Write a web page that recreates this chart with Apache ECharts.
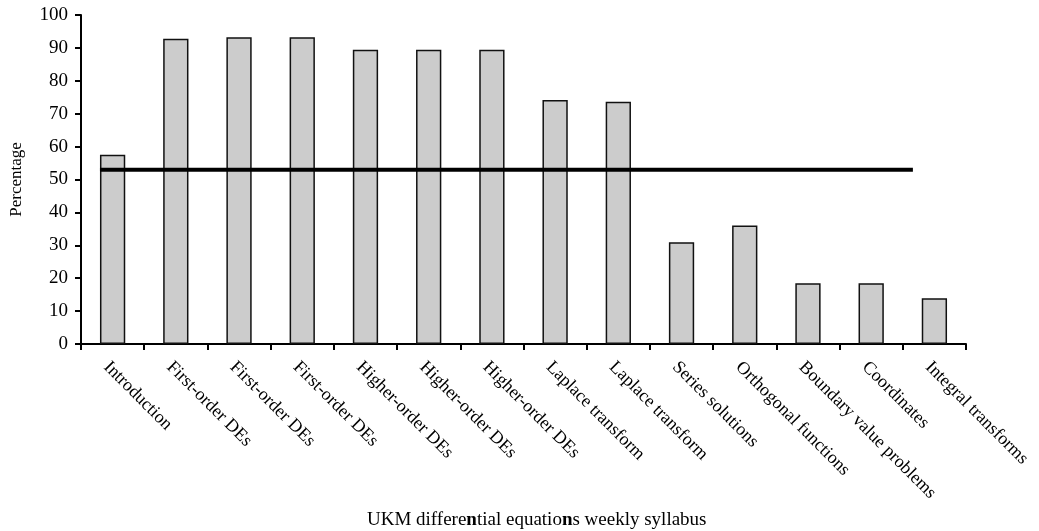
<!DOCTYPE html>
<html>
<head>
<meta charset="utf-8">
<script src="https://cdn.jsdelivr.net/npm/echarts@6/dist/echarts.min.js"></script>
<style>html,body{margin:0;padding:0;background:#fff;}#c{width:1039px;height:531px;}</style>
</head>
<body>
<div id="c"></div>
<script>
const categories = ["Introduction","First-order DEs","First-order DEs","First-order DEs","Higher-order DEs","Higher-order DEs","Higher-order DEs","Laplace transform","Laplace transform","Series solutions","Orthogonal functions","Boundary value problems","Coordinates","Integral transforms"];
const percentages = [57.5, 92.8, 93.2, 93.2, 89.4, 89.4, 89.4, 74.2, 73.6, 30.9, 36.0, 18.5, 18.5, 13.9];
const averageLine = [[0.3, 53], [13.16, 53]];
const yTicks = [0, 10, 20, 30, 40, 50, 60, 70, 80, 90, 100];

const font = "Liberation Serif";
const chart = echarts.init(document.getElementById('c'));
chart.setOption({
  animation: false,
  backgroundColor: '#ffffff',
  grid: {left: 80, right: 73, top: 15, bottom: 187, containLabel: false},
  title: {
    text: 'UKM differe{b|n}tial equatio{b|n}s weekly syllabus',
    left: 362, top: 506,
    textStyle: {fontFamily: font, fontSize: 19, fontWeight: 'normal', color: '#000',
      rich: {b: {fontFamily: font, fontSize: 19, fontWeight: 'bold', color: '#000'}}}
  },
  xAxis: [{
    type: 'category', data: categories, boundaryGap: true,
    axisLine: {lineStyle: {color: '#000', width: 2}},
    axisTick: {show: true, length: 6, inside: false, lineStyle: {color: '#000', width: 2}},
    axisLabel: {rotate: -45, fontFamily: font, fontSize: 18, color: '#000', margin: 14, interval: 0,
      align: 'left', verticalAlign: 'top'}
  }, {
    type: 'value', min: 0, max: categories.length, show: false, position: 'bottom'
  }],
  yAxis: {
    type: 'value', min: 0, max: 100, interval: 10,
    name: 'Percentage', nameLocation: 'middle', nameGap: 56, nameRotate: 90,
    nameTextStyle: {fontFamily: font, fontSize: 17, color: '#000'},
    axisLine: {show: true, lineStyle: {color: '#000', width: 2}},
    axisTick: {show: true, length: 6, lineStyle: {color: '#000', width: 2}},
    axisLabel: {fontFamily: font, fontSize: 19, color: '#000', margin: 13,
      formatter: v => yTicks.includes(v) ? String(v) : ''},
    splitLine: {show: false}
  },
  series: [{
    type: 'bar', data: percentages, xAxisIndex: 0, barWidth: '40%',
    itemStyle: {color: '#cccccc', borderColor: '#111', borderWidth: 1.5}
  }, {
    type: 'line', data: averageLine, xAxisIndex: 1, symbol: 'none',
    lineStyle: {color: '#000', width: 4}, z: 5
  }]
});
</script>
</body>
</html>
